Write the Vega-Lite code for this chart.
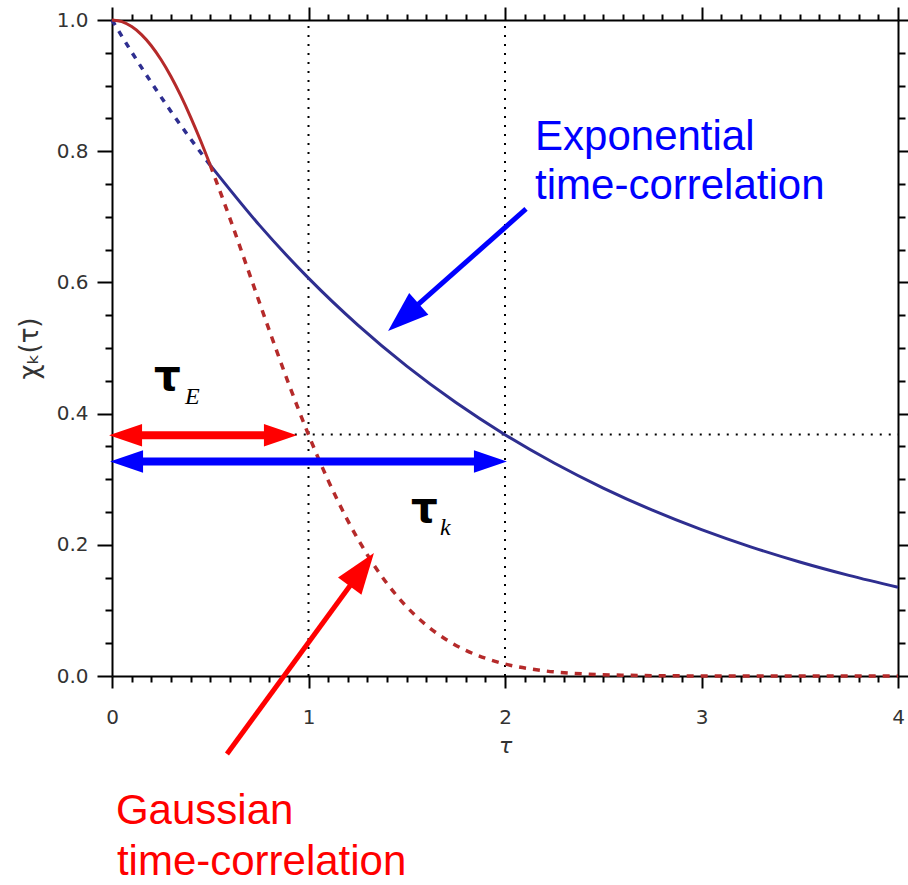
{
  "$schema": "https://vega.github.io/schema/vega-lite/v6.json",
  "width": 786,
  "height": 656,
  "autosize": {"type": "none"},
  "padding": {"left": 112, "top": 20, "right": 10, "bottom": 209},
  "background": "white",
  "config": {
    "view": {"stroke": null},
    "axis": {
      "domainColor": "black",
      "domainWidth": 2,
      "tickColor": "black",
      "tickWidth": 2,
      "grid": false,
      "labelFont": "DejaVu Sans",
      "labelFontSize": 20,
      "labelColor": "#333333",
      "labelOverlap": false,
      "labelFlush": false,
      "titleFont": "DejaVu Sans",
      "titleFontSize": 22,
      "titleFontWeight": "normal",
      "titleColor": "#333333"
    }
  },
  "datasets": {
    "curves": [
      {"t": 0.0, "chi": 1.0, "seg": "gauss_solid"},
      {"t": 0.05, "chi": 0.9975, "seg": "gauss_solid"},
      {"t": 0.1, "chi": 0.99, "seg": "gauss_solid"},
      {"t": 0.15, "chi": 0.9778, "seg": "gauss_solid"},
      {"t": 0.2, "chi": 0.9608, "seg": "gauss_solid"},
      {"t": 0.25, "chi": 0.9394, "seg": "gauss_solid"},
      {"t": 0.3, "chi": 0.9139, "seg": "gauss_solid"},
      {"t": 0.35, "chi": 0.8847, "seg": "gauss_solid"},
      {"t": 0.4, "chi": 0.8521, "seg": "gauss_solid"},
      {"t": 0.45, "chi": 0.8167, "seg": "gauss_solid"},
      {"t": 0.5, "chi": 0.7788, "seg": "gauss_solid"},

      {"t": 0.0, "chi": 1.0, "seg": "exp_dashed"},
      {"t": 0.1, "chi": 0.9512, "seg": "exp_dashed"},
      {"t": 0.2, "chi": 0.9048, "seg": "exp_dashed"},
      {"t": 0.3, "chi": 0.8607, "seg": "exp_dashed"},
      {"t": 0.4, "chi": 0.8187, "seg": "exp_dashed"},
      {"t": 0.5, "chi": 0.7788, "seg": "exp_dashed"},

      {"t": 0.5, "chi": 0.7788, "seg": "exp_solid"},
      {"t": 0.75, "chi": 0.6873, "seg": "exp_solid"},
      {"t": 1.0, "chi": 0.6065, "seg": "exp_solid"},
      {"t": 1.25, "chi": 0.5353, "seg": "exp_solid"},
      {"t": 1.5, "chi": 0.4724, "seg": "exp_solid"},
      {"t": 1.75, "chi": 0.4169, "seg": "exp_solid"},
      {"t": 2.0, "chi": 0.3679, "seg": "exp_solid"},
      {"t": 2.25, "chi": 0.3247, "seg": "exp_solid"},
      {"t": 2.5, "chi": 0.2865, "seg": "exp_solid"},
      {"t": 2.75, "chi": 0.2528, "seg": "exp_solid"},
      {"t": 3.0, "chi": 0.2231, "seg": "exp_solid"},
      {"t": 3.25, "chi": 0.1969, "seg": "exp_solid"},
      {"t": 3.5, "chi": 0.1738, "seg": "exp_solid"},
      {"t": 3.75, "chi": 0.1534, "seg": "exp_solid"},
      {"t": 4.0, "chi": 0.1353, "seg": "exp_solid"},

      {"t": 0.5, "chi": 0.7788, "seg": "gauss_dashed"},
      {"t": 0.6, "chi": 0.6977, "seg": "gauss_dashed"},
      {"t": 0.7, "chi": 0.6126, "seg": "gauss_dashed"},
      {"t": 0.8, "chi": 0.5273, "seg": "gauss_dashed"},
      {"t": 0.9, "chi": 0.4449, "seg": "gauss_dashed"},
      {"t": 1.0, "chi": 0.3679, "seg": "gauss_dashed"},
      {"t": 1.1, "chi": 0.2982, "seg": "gauss_dashed"},
      {"t": 1.2, "chi": 0.2369, "seg": "gauss_dashed"},
      {"t": 1.3, "chi": 0.1845, "seg": "gauss_dashed"},
      {"t": 1.4, "chi": 0.1409, "seg": "gauss_dashed"},
      {"t": 1.5, "chi": 0.1054, "seg": "gauss_dashed"},
      {"t": 1.6, "chi": 0.0773, "seg": "gauss_dashed"},
      {"t": 1.7, "chi": 0.0556, "seg": "gauss_dashed"},
      {"t": 1.8, "chi": 0.0392, "seg": "gauss_dashed"},
      {"t": 1.9, "chi": 0.0271, "seg": "gauss_dashed"},
      {"t": 2.0, "chi": 0.0183, "seg": "gauss_dashed"},
      {"t": 2.2, "chi": 0.0079, "seg": "gauss_dashed"},
      {"t": 2.4, "chi": 0.0032, "seg": "gauss_dashed"},
      {"t": 2.6, "chi": 0.0012, "seg": "gauss_dashed"},
      {"t": 2.8, "chi": 0.0004, "seg": "gauss_dashed"},
      {"t": 3.0, "chi": 0.0001, "seg": "gauss_dashed"},
      {"t": 3.5, "chi": 0.0, "seg": "gauss_dashed"},
      {"t": 4.0, "chi": 0.0, "seg": "gauss_dashed"}
    ]
  },
  "layer": [
    {
      "data": {"values": [{"t": 1, "lo": 0, "hi": 1}, {"t": 2, "lo": 0, "hi": 1}]},
      "mark": {"type": "rule", "color": "black", "strokeWidth": 2, "strokeDash": [2, 7]},
      "encoding": {
        "x": {"field": "t", "type": "quantitative", "scale": {"domain": [0, 4], "nice": false, "zero": false}, "axis": null},
        "y": {"field": "lo", "type": "quantitative", "scale": {"domain": [0, 1], "nice": false, "zero": false}, "axis": null},
        "y2": {"field": "hi"}
      }
    },
    {
      "data": {"values": [{"t0": 0.93, "t1": 4, "chi": 0.368}]},
      "mark": {"type": "rule", "color": "black", "strokeWidth": 2, "strokeDash": [2, 7]},
      "encoding": {
        "x": {"field": "t0", "type": "quantitative", "axis": null},
        "x2": {"field": "t1"},
        "y": {"field": "chi", "type": "quantitative", "axis": null}
      }
    },
    {
      "data": {"name": "curves"},
      "transform": [{"filter": "datum.seg === 'exp_dashed'"}],
      "mark": {"type": "line", "color": "#2e2e90", "strokeWidth": 3.5, "strokeDash": [6, 7], "interpolate": "monotone"},
      "encoding": {
        "x": {"field": "t", "type": "quantitative", "axis": null},
        "y": {"field": "chi", "type": "quantitative", "axis": null}
      }
    },
    {
      "data": {"name": "curves"},
      "transform": [{"filter": "datum.seg === 'gauss_solid'"}],
      "mark": {"type": "line", "color": "#b52a2a", "strokeWidth": 3, "interpolate": "monotone"},
      "encoding": {
        "x": {
          "field": "t", "type": "quantitative",
          "axis": {
            "orient": "bottom",
            "values": [0, 0.1, 0.2, 0.3, 0.4, 0.5, 0.6, 0.7, 0.8, 0.9, 1, 1.1, 1.2, 1.3, 1.4, 1.5, 1.6, 1.7, 1.8, 1.9, 2, 2.1, 2.2, 2.3, 2.4, 2.5, 2.6, 2.7, 2.8, 2.9, 3, 3.1, 3.2, 3.3, 3.4, 3.5, 3.6, 3.7, 3.8, 3.9, 4],
            "tickSize": {"condition": {"test": "abs(datum.value - round(datum.value)) < 1e-6", "value": 12}, "value": 6},
            "labelExpr": "abs(datum.value - round(datum.value)) < 1e-6 ? format(datum.value, 'd') : ''",
            "labelPadding": 19,
            "title": "τ",
            "titleFontStyle": "italic",
            "titleFontSize": 22,
            "titlePadding": 8
          }
        },
        "y": {
          "field": "chi", "type": "quantitative",
          "axis": {
            "orient": "left",
            "values": [0, 0.05, 0.1, 0.15, 0.2, 0.25, 0.3, 0.35, 0.4, 0.45, 0.5, 0.55, 0.6, 0.65, 0.7, 0.75, 0.8, 0.85, 0.9, 0.95, 1],
            "tickSize": {"condition": {"test": "abs(datum.value * 5 - round(datum.value * 5)) < 1e-6", "value": 15}, "value": 7},
            "labelExpr": "abs(datum.value * 5 - round(datum.value * 5)) < 1e-6 ? format(datum.value, '.1f') : ''",
            "labelPadding": 9,
            "title": "χₖ(τ)",
            "titleFontSize": 26,
            "titlePadding": 14
          }
        }
      }
    },
    {
      "data": {"name": "curves"},
      "transform": [{"filter": "datum.seg === 'exp_solid'"}],
      "mark": {"type": "line", "color": "#2e2e90", "strokeWidth": 3, "interpolate": "monotone"},
      "encoding": {
        "x": {
          "field": "t", "type": "quantitative",
          "axis": {
            "orient": "top",
            "values": [0, 0.1, 0.2, 0.3, 0.4, 0.5, 0.6, 0.7, 0.8, 0.9, 1, 1.1, 1.2, 1.3, 1.4, 1.5, 1.6, 1.7, 1.8, 1.9, 2, 2.1, 2.2, 2.3, 2.4, 2.5, 2.6, 2.7, 2.8, 2.9, 3, 3.1, 3.2, 3.3, 3.4, 3.5, 3.6, 3.7, 3.8, 3.9, 4],
            "tickSize": {"condition": {"test": "abs(datum.value - round(datum.value)) < 1e-6", "value": 13}, "value": 6},
            "labels": false,
            "title": null
          }
        },
        "y": {
          "field": "chi", "type": "quantitative",
          "axis": {
            "orient": "right",
            "values": [0, 0.05, 0.1, 0.15, 0.2, 0.25, 0.3, 0.35, 0.4, 0.45, 0.5, 0.55, 0.6, 0.65, 0.7, 0.75, 0.8, 0.85, 0.9, 0.95, 1],
            "tickSize": {"condition": {"test": "abs(datum.value * 5 - round(datum.value * 5)) < 1e-6", "value": 15}, "value": 7},
            "labels": false,
            "title": null
          }
        }
      }
    },
    {
      "data": {"name": "curves"},
      "transform": [{"filter": "datum.seg === 'gauss_dashed'"}],
      "mark": {"type": "line", "color": "#b52a2a", "strokeWidth": 3.5, "strokeDash": [7, 7], "interpolate": "monotone"},
      "encoding": {
        "x": {"field": "t", "type": "quantitative", "axis": null},
        "y": {"field": "chi", "type": "quantitative", "axis": null}
      }
    },
    {
      "data": {"values": [{"t0": 0.13, "t1": 0.79, "chi": 0.367}]},
      "mark": {"type": "rule", "color": "#ff0000", "strokeWidth": 8},
      "encoding": {
        "x": {"field": "t0", "type": "quantitative", "axis": null},
        "x2": {"field": "t1"},
        "y": {"field": "chi", "type": "quantitative", "axis": null}
      }
    },
    {
      "data": {"values": [{"t0": 0.13, "t1": 1.86, "chi": 0.327}]},
      "mark": {"type": "rule", "color": "#0000ff", "strokeWidth": 8},
      "encoding": {
        "x": {"field": "t0", "type": "quantitative", "axis": null},
        "x2": {"field": "t1"},
        "y": {"field": "chi", "type": "quantitative", "axis": null}
      }
    },
    {
      "data": {"values": [{"t": 0.941, "chi": 0.367}]},
      "mark": {"type": "point", "shape": "M0,0L-2,-0.68L-2,0.68Z", "filled": true, "color": "#ff0000", "opacity": 1, "size": 1089, "angle": 0},
      "encoding": {
        "x": {"field": "t", "type": "quantitative", "axis": null},
        "y": {"field": "chi", "type": "quantitative", "axis": null}
      }
    },
    {
      "data": {"values": [{"t": -0.015, "chi": 0.367}]},
      "mark": {"type": "point", "shape": "M0,0L-2,-0.68L-2,0.68Z", "filled": true, "color": "#ff0000", "opacity": 1, "size": 1089, "angle": 180},
      "encoding": {
        "x": {"field": "t", "type": "quantitative", "axis": null},
        "y": {"field": "chi", "type": "quantitative", "axis": null}
      }
    },
    {
      "data": {"values": [{"t": 2.01, "chi": 0.327}]},
      "mark": {"type": "point", "shape": "M0,0L-2,-0.68L-2,0.68Z", "filled": true, "color": "#0000ff", "opacity": 1, "size": 1089, "angle": 0},
      "encoding": {
        "x": {"field": "t", "type": "quantitative", "axis": null},
        "y": {"field": "chi", "type": "quantitative", "axis": null}
      }
    },
    {
      "data": {"values": [{"t": -0.01, "chi": 0.327}]},
      "mark": {"type": "point", "shape": "M0,0L-2,-0.68L-2,0.68Z", "filled": true, "color": "#0000ff", "opacity": 1, "size": 1089, "angle": 180},
      "encoding": {
        "x": {"field": "t", "type": "quantitative", "axis": null},
        "y": {"field": "chi", "type": "quantitative", "axis": null}
      }
    },
    {
      "data": {"values": [{"t0": 2.107, "chi0": 0.712, "t1": 1.538, "chi1": 0.561}]},
      "mark": {"type": "rule", "color": "#0000ff", "strokeWidth": 5},
      "encoding": {
        "x": {"field": "t0", "type": "quantitative", "axis": null},
        "y": {"field": "chi0", "type": "quantitative", "axis": null},
        "x2": {"field": "t1"},
        "y2": {"field": "chi1"}
      }
    },
    {
      "data": {"values": [{"t": 1.405, "chi": 0.526}]},
      "mark": {"type": "point", "shape": "M0,0L-2,-0.707L-2,0.707Z", "filled": true, "color": "#0000ff", "opacity": 1, "size": 1681, "angle": 138.5},
      "encoding": {
        "x": {"field": "t", "type": "quantitative", "axis": null},
        "y": {"field": "chi", "type": "quantitative", "axis": null}
      }
    },
    {
      "data": {"values": [{"t0": 0.585, "chi0": -0.119, "t1": 1.228, "chi1": 0.1444}]},
      "mark": {"type": "rule", "color": "#ff0000", "strokeWidth": 5, "clip": false},
      "encoding": {
        "x": {"field": "t0", "type": "quantitative", "axis": null},
        "y": {"field": "chi0", "type": "quantitative", "axis": null},
        "x2": {"field": "t1"},
        "y2": {"field": "chi1"}
      }
    },
    {
      "data": {"values": [{"t": 1.333, "chi": 0.1875}]},
      "mark": {"type": "point", "shape": "M0,0L-2,-0.707L-2,0.707Z", "filled": true, "color": "#ff0000", "opacity": 1, "size": 1681, "angle": 306.2},
      "encoding": {
        "x": {"field": "t", "type": "quantitative", "axis": null},
        "y": {"field": "chi", "type": "quantitative", "axis": null}
      }
    },
    {
      "data": {"values": [
        {"t": 2.153, "chi": 0.802, "label": "Exponential"},
        {"t": 2.153, "chi": 0.727, "label": "time-correlation"}
      ]},
      "mark": {"type": "text", "font": "Liberation Sans", "fontSize": 42, "color": "#0000ff", "align": "left", "baseline": "alphabetic"},
      "encoding": {
        "x": {"field": "t", "type": "quantitative", "axis": null},
        "y": {"field": "chi", "type": "quantitative", "axis": null},
        "text": {"field": "label"}
      }
    },
    {
      "data": {"values": [
        {"t": 0.02, "chi": -0.226, "label": "Gaussian"},
        {"t": 0.025, "chi": -0.304, "label": "time-correlation"}
      ]},
      "mark": {"type": "text", "font": "Liberation Sans", "fontSize": 42, "color": "#ff0000", "align": "left", "baseline": "alphabetic"},
      "encoding": {
        "x": {"field": "t", "type": "quantitative", "axis": null},
        "y": {"field": "chi", "type": "quantitative", "axis": null},
        "text": {"field": "label"}
      }
    },
    {
      "data": {"values": [
        {"t": 0.214, "chi": 0.436, "label": "τ"},
        {"t": 1.522, "chi": 0.235, "label": "τ"}
      ]},
      "mark": {"type": "text", "font": "DejaVu Sans", "fontSize": 42, "fontWeight": "bold", "color": "black", "align": "left", "baseline": "alphabetic"},
      "encoding": {
        "x": {"field": "t", "type": "quantitative", "axis": null},
        "y": {"field": "chi", "type": "quantitative", "axis": null},
        "text": {"field": "label"}
      }
    },
    {
      "data": {"values": [
        {"t": 0.372, "chi": 0.415, "label": "E"},
        {"t": 1.669, "chi": 0.215, "label": "k"}
      ]},
      "mark": {"type": "text", "font": "Liberation Serif", "fontSize": 24, "fontStyle": "italic", "color": "black", "align": "left", "baseline": "alphabetic"},
      "encoding": {
        "x": {"field": "t", "type": "quantitative", "axis": null},
        "y": {"field": "chi", "type": "quantitative", "axis": null},
        "text": {"field": "label"}
      }
    }
  ]
}
